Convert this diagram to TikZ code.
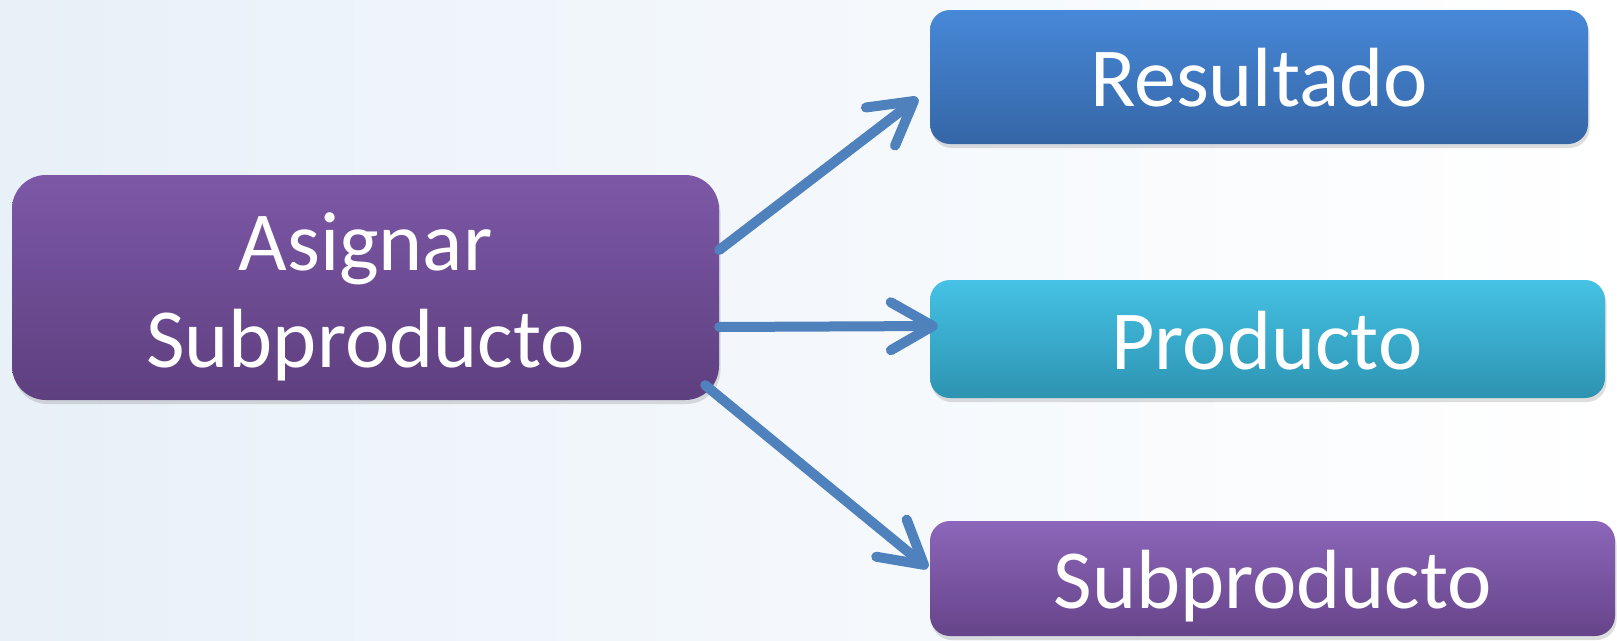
\documentclass[tikz,border=0pt]{standalone}
\usepackage{fontspec}
\setmainfont{Carlito}
\usetikzlibrary{arrows.meta,shadows}
\definecolor{arrowblue}{HTML}{4F81BD}
\definecolor{bgleft}{HTML}{E8F0F8}
\definecolor{bgmid}{HTML}{F4F8FC}
\definecolor{purpTop}{HTML}{7D58A7}
\definecolor{purpBot}{HTML}{5E3F7F}
\definecolor{blueTop}{HTML}{4788D8}
\definecolor{blueBot}{HTML}{3566A6}
\definecolor{cyanTop}{HTML}{45C2E5}
\definecolor{cyanBot}{HTML}{2D93B1}
\definecolor{vioTop}{HTML}{8C66BA}
\definecolor{vioBot}{HTML}{664489}
\tikzset{
  boxbase/.style={draw=none, inner sep=0pt, rectangle,
    drop shadow={shadow xshift=1.5pt, shadow yshift=-4pt, opacity=0.18, fill=black!70}},
  bigbox/.style={boxbase, rounded corners=34pt, minimum width=707pt, minimum height=225pt,
    top color=purpTop, bottom color=purpBot},
  smallbox/.style={boxbase, rounded corners=20pt},
  lbl/.style={anchor=base, text=white, inner sep=0pt, font=\fontsize{84}{97}\selectfont, align=center},
  conn/.style={draw=arrowblue, line width=10pt, line cap=round,
    -{Straight Barb[length=42pt, width=48pt, line width=10pt, line cap=round, line join=round]}}
}
\begin{document}
\begin{tikzpicture}[x=1pt,y=-1pt]
  \useasboundingbox (0,0) rectangle (1617,640);
  \shade[left color=bgleft, right color=white, middle color=bgmid] (0,0) rectangle (1617,640);

  \node[bigbox] (L) at (365.5,287.5) {};
  \node[lbl] (Lt) at (365.5,367) {Asignar\\Subproducto};

  \node[smallbox, minimum width=658pt, minimum height=134pt, top color=blueTop, bottom color=blueBot] (R) at (1259,77) {};
  \node[lbl] (Rt) at (1259,106) {Resultado};

  \node[smallbox, minimum width=675pt, minimum height=118pt, top color=cyanTop, bottom color=cyanBot] (P) at (1267.5,339) {};
  \node[lbl] (Pt) at (1267,369) {Producto};

  \node[smallbox, minimum width=685pt, minimum height=115pt, top color=vioTop, bottom color=vioBot] (S) at (1272.5,578.5) {};
  \node[lbl] (St) at (1273,608) {Subproducto};

  \draw[conn] ([yshift=37.5pt]L.east) -- ([xshift=-12pt,yshift=-21pt]R.west);
  \draw[conn] ([yshift=-39.5pt]L.east) -- ([xshift=8pt,yshift=13pt]P.west);
  \draw[conn] ([xshift=-14pt,yshift=15pt]L.south east) -- ([xshift=-2pt,yshift=10.5pt]S.west);
\end{tikzpicture}
\end{document}
